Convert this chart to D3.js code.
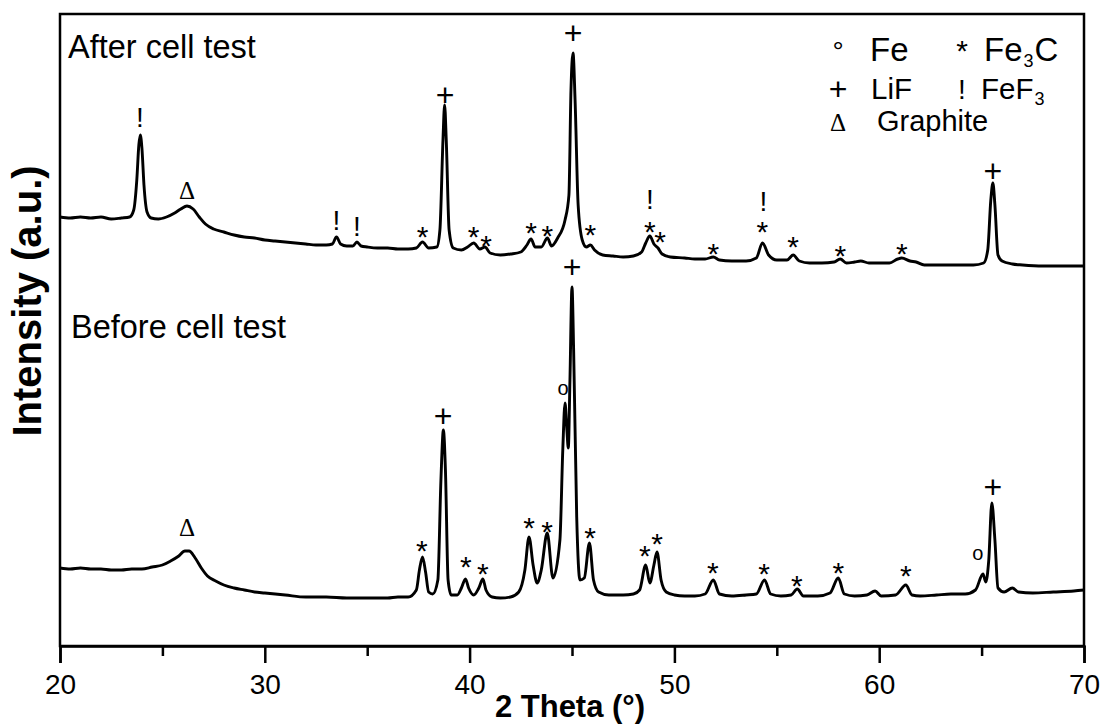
<!DOCTYPE html>
<html>
<head>
<meta charset="utf-8">
<script src="https://cdn.jsdelivr.net/npm/d3@7"></script>
<style>
  html, body { margin: 0; padding: 0; background: #fff; }
  svg { display: block; }
  text { font-family: "Liberation Sans", Arial, sans-serif; fill: #000; }
</style>
</head>
<body>
<svg id="chart" width="1104" height="725"></svg>
<script>
// ---- data: [2theta (deg), intensity (a.u.)] ----
const afterPattern = [
  [20.0,429],[20.5,428],[21.0,429],[21.5,428],[22.0,429],[22.5,427],[23.0,428],[23.4,429],
  [23.6,436],[23.75,466],[23.85,501],[23.92,511],[24.0,498],[24.1,461],[24.25,434],[24.45,428],
  [24.8,427],[25.2,429],[25.6,433],[25.9,437],[26.2,440],[26.5,437],[26.8,429],[27.1,422],
  [27.5,417],[28.0,414],[28.5,411],[29.0,409],[29.5,408],[30.0,406],[30.5,405],[31.0,404],
  [31.5,403],[32.0,402],[32.5,401],[33.0,401],[33.3,402],[33.5,409],[33.7,402],[34.0,400],
  [34.3,400],[34.5,404],[34.7,400],[35.0,399],[35.5,398],[36.0,398],[36.5,397],[37.0,397],
  [37.4,398],[37.7,404],[38.0,398],[38.4,399],[38.55,416],[38.7,506],[38.78,541],[38.86,506],
  [39.0,416],[39.2,398],[39.6,396],[39.9,399],[40.2,403],[40.5,397],[40.75,399],[41.0,393],
  [41.5,391],[42.0,392],[42.5,394],[42.8,401],[43.0,407],[43.2,399],[43.5,399],[43.8,408],
  [44.0,400],[44.3,408],[44.66,426],[44.85,451],[44.95,556],[45.05,593],[45.15,546],[45.3,441],
  [45.5,406],[45.7,399],[45.9,401],[46.1,396],[46.5,391],[47.0,390],[47.5,389],[48.0,390],
  [48.4,394],[48.6,403],[48.8,410],[49.0,402],[49.2,398],[49.4,392],[49.8,389],[50.5,388],
  [51.0,387],[51.5,387],[51.9,389],[52.2,386],[52.8,385],[53.5,385],[54.0,388],[54.3,403],
  [54.6,391],[55.0,386],[55.5,386],[55.8,391],[56.1,385],[56.6,383],[57.2,383],[57.8,384],
  [58.1,387],[58.4,383],[58.8,384],[59.1,385],[59.5,383],[60.0,383],[60.5,383],[60.9,387],
  [61.1,388],[61.5,385],[61.8,384],[62.2,381],[63.0,381],[63.8,381],[64.6,381],[65.1,383],
  [65.3,396],[65.45,446],[65.55,463],[65.65,441],[65.8,391],[66.0,385],[66.5,382],[67.0,381],
  [68.0,380],[69.0,380],[70.0,380]
];
const beforePattern = [
  [20.0,78],[20.5,77],[21.0,78],[21.5,77],[22.0,77],[22.5,76],[23.0,76],[23.5,77],[24.0,77],
  [24.5,79],[25.0,81],[25.4,85],[25.8,90],[26.1,95],[26.3,95],[26.6,88],[26.9,78],[27.2,70],
  [27.6,65],[28.0,61],[28.5,58],[29.0,56],[29.5,54],[30.0,53],[31.0,51],[32.0,49],[33.0,49],
  [34.0,48],[35.0,48],[36.0,48],[36.5,49],[37.0,49],[37.4,56],[37.55,76],[37.7,89],[37.85,74],
  [38.0,54],[38.2,52],[38.45,66],[38.6,166],[38.72,216],[38.82,176],[38.95,66],[39.1,51],
  [39.4,51],[39.6,58],[39.8,67],[39.95,58],[40.2,51],[40.45,58],[40.65,67],[40.8,56],[41.1,49],
  [41.5,48],[42.0,49],[42.4,54],[42.7,76],[42.9,109],[43.1,81],[43.3,63],[43.5,76],[43.79,113],
  [44.07,68],[44.41,106],[44.55,196],[44.66,243],[44.75,216],[44.82,198],[44.9,266],[45.0,359],
  [45.08,296],[45.23,129],[45.39,66],[45.6,68],[45.85,103],[46.05,66],[46.3,54],[46.8,51],
  [47.5,51],[48.0,52],[48.3,56],[48.6,81],[48.8,63],[49.0,81],[49.15,94],[49.35,66],[49.6,54],
  [50.0,51],[50.5,50],[51.0,50],[51.5,52],[51.9,66],[52.2,52],[52.8,50],[53.5,51],[54.0,52],
  [54.4,66],[54.7,52],[55.2,50],[55.7,51],[56.0,57],[56.3,50],[57.0,50],[57.6,53],[58.0,68],
  [58.3,52],[58.8,50],[59.4,51],[59.8,55],[60.1,50],[60.8,51],[61.3,61],[61.6,51],[62.0,50],
  [62.8,51],[63.5,52],[64.2,52],[64.7,56],[65.07,72],[65.2,64],[65.35,86],[65.5,143],
  [65.65,106],[65.8,58],[66.1,54],[66.5,58],[66.8,54],[67.5,53],[68.5,54],[69.5,55],[70.0,56]
];

// peak markers: [2theta, symbol, intensity level of the symbol centre]
const afterMarks = [
  [23.9,"!",529],[26.2,"Δ",455],[33.5,"!",426],[34.5,"!",420],[37.7,"*",416],[38.8,"+",551],
  [40.2,"*",416],[40.8,"*",407],[43.0,"*",420],[43.8,"*",417],[45.05,"+",613],[45.9,"*",418],
  [48.8,"!",447],[48.8,"*",421],[49.3,"*",411],[51.9,"*",399],[54.35,"!",445],[54.3,"*",421],
  [55.8,"*",406],[58.1,"*",397],[61.1,"*",399],[65.55,"+",475]
];
const beforeMarks = [
  [26.2,"Δ",118],[37.67,"*",102],[38.7,"+",230],[39.82,"*",86],[40.65,"*",79],[42.9,"*",125],
  [43.78,"*",121],[44.56,"o",256],[45.0,"+",379],[45.88,"*",115],[48.56,"*",97],[49.15,"*",109],
  [51.88,"*",80],[54.38,"*",79],[55.98,"*",67],[58.0,"*",80],[61.3,"*",77],[64.82,"o",91],
  [65.55,"+",159]
];

const majorTicks = [20, 30, 40, 50, 60, 70];
const minorTicks = [25, 35, 45, 55, 65];
const xDomain = [20, 70];
const yDomain = [0, 632];

const panelLabels = ["After cell test", "Before cell test"];
const legendRows = [
  [["°", "Fe", null], ["*", "Fe", "3", "C"]],
  [["+", "LiF", null], ["!", "FeF", "3"]],
  [["Δ", "Graphite", null]]
];

// ---- layout ----
const svg = d3.select("#chart");
const L = 60, R = 1084, T = 14, B = 646;
const x = d3.scaleLinear().domain(xDomain).range([L, R]);
const y = d3.scaleLinear().domain(yDomain).range([B, T]);
const SANS = "Liberation Sans, Arial, sans-serif";
const SERIF = "Liberation Serif, Times New Roman, serif";

svg.append("rect").attr("width", 1104).attr("height", 725).attr("fill", "#fff");

const line = d3.line().x(d => x(d[0])).y(d => y(d[1])).curve(d3.curveMonotoneX);

[afterPattern, beforePattern].forEach(p => {
  svg.append("path").datum(p).attr("d", line)
    .attr("fill", "none").attr("stroke", "#000").attr("stroke-width", 2.9)
    .attr("stroke-linejoin", "round");
});

// frame
svg.append("rect").attr("x", L).attr("y", T).attr("width", R - L).attr("height", B - T)
  .attr("fill", "none").attr("stroke", "#000").attr("stroke-width", 2.5);

// x axis
const axMajor = d3.axisBottom(x).tickValues(majorTicks).tickSize(17).tickPadding(11)
  .tickFormat(d3.format("d"));
const gx = svg.append("g").attr("transform", `translate(0,${B})`).call(axMajor);
gx.select(".domain").attr("stroke-width", 2.5);
gx.selectAll(".tick line").attr("stroke-width", 2.5);
gx.selectAll(".tick text").attr("font-size", 28).attr("font-family", SANS);
const axMinor = d3.axisBottom(x).tickValues(minorTicks).tickSize(10).tickFormat("");
const gm = svg.append("g").attr("transform", `translate(0,${B})`).call(axMinor);
gm.select(".domain").remove();
gm.selectAll(".tick line").attr("stroke-width", 2.5);

// axis titles
svg.append("text").attr("x", 570).attr("y", 717).attr("text-anchor", "middle")
  .attr("font-size", 31).attr("font-weight", "bold").text("2 Theta (°)");
svg.append("text").attr("transform", "translate(41,301) rotate(-90)").attr("text-anchor", "middle")
  .attr("font-size", 40).attr("font-weight", "bold").text("Intensity (a.u.)");

// peak markers
const markStyle = {
  "*": { size: 30, dy: 17, font: SANS },
  "+": { size: 32, dy: 11, font: SANS },
  "!": { size: 28, dy: 10, font: SANS },
  "Δ": { size: 25, dy: 8, font: SERIF },
  "o": { size: 20, dy: 5, font: SANS }
};
[afterMarks, beforeMarks].forEach(m => {
  svg.append("g").selectAll("text").data(m).join("text")
    .attr("x", d => x(d[0]))
    .attr("y", d => y(d[2]) + markStyle[d[1]].dy)
    .attr("text-anchor", "middle")
    .attr("font-size", d => markStyle[d[1]].size)
    .style("font-family", d => markStyle[d[1]].font)
    .text(d => d[1]);
});

// panel labels
const panelPos = [[68, 58], [71, 338]];
panelLabels.forEach((t, i) => {
  svg.append("text").attr("x", panelPos[i][0]).attr("y", panelPos[i][1])
    .attr("font-size", 32.5).text(t);
});

// legend
const legSymX = [838, 962];
const legLabX = [[870, 984], [871, 981], [877, 0]];
const legY = [61, 99, 131];
const legSize = [33, 29.5, 29];
const legSymStyle = { "°": [28, SANS], "*": [30, SANS], "+": [32, SANS], "!": [28, SANS], "Δ": [25, SERIF] };
legendRows.forEach((row, r) => {
  row.forEach((item, c) => {
    const [sym, lab, sub, tail] = item;
    svg.append("text").attr("x", legSymX[c]).attr("y", legY[r] + (sym === "+" ? 1 : 0))
      .attr("text-anchor", "middle")
      .attr("font-size", legSymStyle[sym][0])
      .style("font-family", legSymStyle[sym][1])
      .text(sym);
    const t = svg.append("text").attr("x", legLabX[r][c]).attr("y", legY[r]).attr("font-size", legSize[r]);
    t.append("tspan").text(lab);
    if (sub) {
      t.append("tspan").attr("font-size", 18).attr("dy", 6).attr("dx", 1).text(sub);
      if (tail) t.append("tspan").attr("dy", -6).attr("dx", 1).text(tail);
    }
  });
});
</script>
</body>
</html>
